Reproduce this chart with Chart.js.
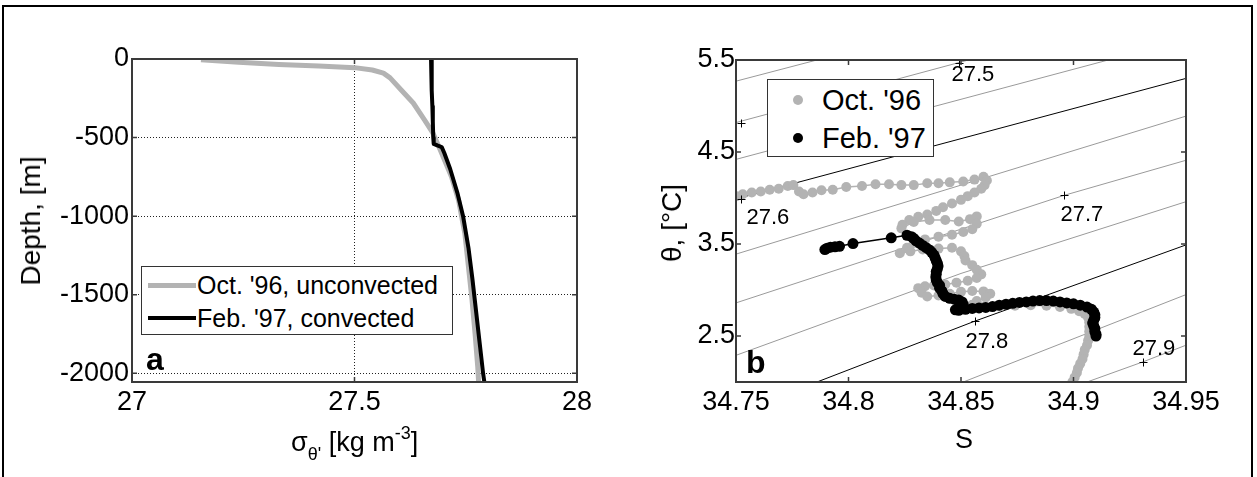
<!DOCTYPE html>
<html>
<head>
<meta charset="utf-8">
<script src="https://cdn.jsdelivr.net/npm/chart.js@4.4.1/dist/chart.umd.min.js"></script>
<style>
  body { margin: 0; background: #fff; }
  #page { position: relative; width: 1257px; height: 477px; overflow: hidden; font-family: "Liberation Sans", Arial, sans-serif; color: #000; }
  #outline { position: absolute; left: 2px; top: 5px; width: 1251px; height: 520px; border: 2px solid #000; box-sizing: border-box; }
  canvas { position: absolute; top: 0; }
  .txt { position: absolute; white-space: nowrap; line-height: 1; }
  .rot { transform: translate(-50%, -50%) rotate(-90deg); }
  .legend { position: absolute; background: #fff; border: 1px solid #333; box-sizing: border-box; }
  .legend .item { position: absolute; white-space: nowrap; line-height: 1; transform: translateY(-50%); }
  .legend .swatch { position: absolute; }
</style>
</head>
<body>
<div id="page">
  <div id="outline"></div>
  <canvas id="sigmaChart" width="640" height="477" style="left:0"></canvas>
  <canvas id="tsChart" width="617" height="477" style="left:640px"></canvas>

  <div class="txt rot" style="left:31px; top:221px; font-size:28px;">Depth, [m]</div>
  <div class="txt" style="left:291px; top:429px; font-size:27px;">σ<span style="font-size:18px; position:relative; top:9px;">θ'</span> [kg m<span style="font-size:18px; position:relative; top:-12px;">-3</span>]</div>
  <div class="txt" style="left:146px; top:343px; font-size:32px; font-weight:bold;">a</div>

  <div class="txt rot" style="left:672px; top:223px; font-size:28px;">θ, [°C]</div>
  <div class="txt" style="left:955px; top:426px; font-size:27px;">S</div>
  <div class="txt" style="left:746px; top:346px; font-size:32px; font-weight:bold;">b</div>

  <div id="legendA" class="legend" style="left:141px; top:266px; width:312px; height:69px;"></div>
  <div id="legendB" class="legend" style="left:767px; top:79px; width:167px; height:78px;"></div>
</div>

<script>
// ---- panel a: potential density profiles ----
const depthOct = [-5, -20, -35, -45, -55, -70, -90, -120, -200, -280, -390, -470, -580, -750, -900, -1110, -1320, -1530, -1750, -1960, -2060];
const sigmaOct = [27.155, 27.24, 27.33, 27.42, 27.5, 27.54, 27.565, 27.58, 27.606, 27.632, 27.658, 27.676, 27.693, 27.718, 27.734, 27.748, 27.756, 27.764, 27.771, 27.777, 27.779];
const depthFeb = [0, -100, -200, -300, -400, -500, -540, -550, -560, -600, -700, -850, -1000, -1200, -1400, -1600, -1800, -2000, -2060];
const sigmaFeb = [27.672, 27.673, 27.674, 27.675, 27.676, 27.677, 27.678, 27.686, 27.696, 27.702, 27.715, 27.731, 27.744, 27.756, 27.765, 27.773, 27.781, 27.789, 27.792];
const sigmaTicks = [27, 27.5, 28];
const depthTicks = [0, -500, -1000, -1500, -2000];

// ---- panel b: theta-S ----
const salOct = [34.7502, 34.753, 34.757, 34.761, 34.765, 34.769, 34.773, 34.7755, 34.778, 34.780,
  34.784, 34.788, 34.793, 34.799, 34.806, 34.812, 34.818, 34.8235, 34.829, 34.835,
  34.840, 34.845, 34.851, 34.856, 34.860, 34.8615, 34.8605, 34.859, 34.856, 34.853,
  34.850, 34.846, 34.842, 34.839, 34.835, 34.831, 34.827, 34.824, 34.8235, 34.829,
  34.836, 34.843, 34.849, 34.854, 34.857, 34.857, 34.855, 34.851, 34.846, 34.840,
  34.834, 34.829, 34.826, 34.8228, 34.8275, 34.833, 34.840, 34.846, 34.850, 34.8515,
  34.852, 34.855, 34.857, 34.859, 34.857, 34.853, 34.848, 34.843, 34.838, 34.834,
  34.831, 34.8325, 34.835, 34.840, 34.845, 34.850, 34.855, 34.860, 34.863, 34.861,
  34.857, 34.855, 34.860, 34.867, 34.874, 34.881, 34.888, 34.894, 34.899, 34.9025,
  34.905, 34.9065, 34.907, 34.907, 34.907, 34.907, 34.9065, 34.906, 34.905, 34.9045,
  34.904, 34.903, 34.902, 34.9015, 34.9005, 34.8995, 34.8985];
const thetaOct = [4.02, 4.04, 4.06, 4.07, 4.09, 4.10, 4.13, 4.14, 4.07, 4.04,
  4.06, 4.085, 4.09, 4.12, 4.13, 4.15, 4.15, 4.14, 4.14, 4.16,
  4.16, 4.17, 4.18, 4.20, 4.23, 4.19, 4.14, 4.10, 4.06, 4.02,
  3.98, 3.94, 3.90, 3.86, 3.82, 3.795, 3.76, 3.71, 3.67, 3.74,
  3.76, 3.76, 3.745, 3.77, 3.80, 3.72, 3.66, 3.63, 3.60, 3.58,
  3.55, 3.51, 3.46, 3.40, 3.42, 3.44, 3.45, 3.46, 3.42, 3.37,
  3.32, 3.27, 3.22, 3.17, 3.13, 3.10, 3.08, 3.06, 3.05, 3.04,
  3.02, 2.97, 2.93, 2.94, 2.96, 2.98, 2.99, 2.985, 2.96, 2.92,
  2.88, 2.84, 2.82, 2.82, 2.83, 2.835, 2.83, 2.815, 2.795, 2.77,
  2.74, 2.70, 2.65, 2.60, 2.55, 2.50, 2.45, 2.40, 2.35, 2.30,
  2.25, 2.20, 2.15, 2.10, 2.05, 2.00, 1.95];
const salFeb = [34.7895, 34.7905, 34.792, 34.794, 34.796, 34.802, 34.819, 34.826, 34.828,
  34.829, 34.830, 34.8315, 34.833, 34.8345, 34.836, 34.837, 34.838, 34.8385, 34.839,
  34.8395, 34.8398, 34.8395, 34.839, 34.839, 34.8388, 34.839, 34.8395, 34.8405, 34.8405,
  34.8415, 34.842, 34.843, 34.845, 34.847, 34.849, 34.8505, 34.851, 34.849, 34.8475,
  34.849, 34.852, 34.855, 34.858, 34.861, 34.864, 34.867, 34.870, 34.873, 34.876,
  34.879, 34.882, 34.885, 34.888, 34.891, 34.894, 34.897, 34.900, 34.903, 34.906,
  34.908, 34.909, 34.9095, 34.9095, 34.909, 34.9085, 34.909, 34.9095, 34.9095, 34.910,
  34.910];
const thetaFeb = [3.44, 3.455, 3.465, 3.47, 3.475, 3.505, 3.567, 3.595, 3.58,
  3.56, 3.535, 3.51, 3.485, 3.46, 3.435, 3.41, 3.38, 3.35, 3.32,
  3.29, 3.26, 3.23, 3.20, 3.17, 3.14, 3.11, 3.08, 3.05, 3.02,
  2.99, 2.96, 2.93, 2.91, 2.90, 2.89, 2.87, 2.84, 2.81, 2.785,
  2.78, 2.79, 2.80, 2.805, 2.81, 2.82, 2.835, 2.845, 2.855, 2.865,
  2.87, 2.88, 2.885, 2.885, 2.88, 2.87, 2.86, 2.85, 2.835, 2.815,
  2.79, 2.76, 2.73, 2.70, 2.67, 2.64, 2.61, 2.58, 2.55, 2.52,
  2.50];
const salTicks = [34.75, 34.8, 34.85, 34.9, 34.95];
const thetaTicks = [2.5, 3.5, 4.5, 5.5];

// isopycnals (sigma-theta), traced as S/theta vertices
const isoLevels = [27.45, 27.5, 27.55, 27.6, 27.65, 27.7, 27.75, 27.8, 27.85, 27.9];
const isoSal = [
  [34.75, 34.80],
  [34.75, 34.87],
  [34.75, 34.92],
  [34.75, 34.95],
  [34.75, 34.95],
  [34.75, 34.896, 34.95],
  [34.75, 34.85, 34.95],
  [34.75, 34.786, 34.856, 34.95],
  [34.80, 34.851, 34.95],
  [34.88, 34.906, 34.931, 34.95]
];
const isoTheta = [
  [5.27, 5.59],
  [4.82, 5.61],
  [4.42, 5.53],
  [3.99, 5.30],
  [3.39, 4.89],
  [2.86, 4.03, 4.41],
  [2.29, 3.18, 3.96],
  [1.65, 2.00, 2.66, 3.49],
  [1.50, 2.00, 2.95],
  [1.75, 2.00, 2.22, 2.40]
];
const isoDarkLevels = [27.6, 27.8];
// contour label marks
const isoMarkSal = [34.752, 34.849, 34.752, 34.896, 34.856, 34.931];
const isoMarkTheta = [4.82, 5.47, 3.99, 4.03, 2.66, 2.22];
const isoMarkText = [null, '27.5', '27.6', '27.7', '27.8', '27.9'];

Chart.defaults.font.family = '"Liberation Sans", Arial, sans-serif';
Chart.defaults.color = '#000';

const pairs = (xs, ys) => xs.map((v, i) => ({ x: v, y: ys[i] }));

// axes box with inward ticks on all four sides
const boxTicks = {
  id: 'boxTicks',
  afterDraw(chart) {
    const { ctx, chartArea: a, scales: { x, y } } = chart;
    const tl = 5;
    ctx.save();
    ctx.strokeStyle = '#3a3a3a';
    ctx.lineWidth = 1.5;
    ctx.beginPath();
    x.ticks.forEach(t => {
      const px = x.getPixelForValue(t.value);
      ctx.moveTo(px, a.bottom); ctx.lineTo(px, a.bottom - tl);
      ctx.moveTo(px, a.top); ctx.lineTo(px, a.top + tl);
    });
    y.ticks.forEach(t => {
      const py = y.getPixelForValue(t.value);
      ctx.moveTo(a.left, py); ctx.lineTo(a.left + tl, py);
      ctx.moveTo(a.right, py); ctx.lineTo(a.right - tl, py);
    });
    ctx.stroke();
    ctx.lineWidth = 2;
    ctx.strokeRect(a.left, a.top, a.right - a.left, a.bottom - a.top);
    ctx.restore();
  }
};

// "+" marks and level numbers on the isopycnals
const labelOffsets = [null, [-8, 17], [5, 24], [-4, 25], [-10, 26], [-11, -8]];
const isoLabels = {
  id: 'isoLabels',
  afterDatasetsDraw(chart) {
    const { ctx, chartArea: a, scales: { x, y } } = chart;
    ctx.save();
    ctx.beginPath();
    ctx.rect(a.left, a.top, a.right - a.left, a.bottom - a.top);
    ctx.clip();
    ctx.strokeStyle = '#000';
    ctx.lineWidth = 1;
    ctx.fillStyle = '#000';
    ctx.font = '22px "Liberation Sans", Arial';
    ctx.textBaseline = 'alphabetic';
    isoMarkSal.forEach((s, i) => {
      const px = Math.round(x.getPixelForValue(s)) + 0.5;
      const py = Math.round(y.getPixelForValue(isoMarkTheta[i])) + 0.5;
      ctx.beginPath();
      ctx.moveTo(px - 4, py); ctx.lineTo(px + 4, py);
      ctx.moveTo(px, py - 4); ctx.lineTo(px, py + 4);
      ctx.stroke();
      if (isoMarkText[i]) {
        const [dx, dy] = labelOffsets[i];
        ctx.fillText(isoMarkText[i], px + dx, py + dy);
      }
    });
    ctx.restore();
  }
};

function fixedTicks(values) {
  return scale => { scale.ticks = values.map(v => ({ value: v })); };
}

const tickFont = { size: 27 };

// panel a
const profileSets = [
  { label: "Oct. '96, unconvected", data: pairs(sigmaOct, depthOct), showLine: true,
    borderColor: '#b3b3b3', borderWidth: 5, pointRadius: 0, borderJoinStyle: 'round', order: 1 },
  { label: "Feb. '97, convected", data: pairs(sigmaFeb, depthFeb), showLine: true,
    borderColor: '#000', borderWidth: 4, pointRadius: 0, borderJoinStyle: 'round', order: 0 }
];

new Chart(document.getElementById('sigmaChart'), {
  type: 'scatter',
  data: { datasets: profileSets },
  options: {
    responsive: false,
    animation: false,
    devicePixelRatio: 1,
    layout: { padding: { top: 59, right: 63, left: 0, bottom: 0 } },
    plugins: { legend: { display: false }, tooltip: { enabled: false } },
    scales: {
      x: {
        type: 'linear', min: 27, max: 28,
        afterBuildTicks: fixedTicks(sigmaTicks),
        afterFit: s => { s.height = 95; },
        ticks: { padding: 4, font: tickFont, callback: v => String(v) },
        grid: { drawTicks: false, lineWidth: 1,
          color: c => (c.tick && c.tick.value === 27.5) ? '#222' : 'rgba(0,0,0,0)' },
        border: { display: false, dash: [1, 2] }
      },
      y: {
        type: 'linear', min: -2055, max: 0,
        afterBuildTicks: fixedTicks(depthTicks),
        afterFit: s => { s.width = 132; },
        ticks: { padding: 3, font: tickFont, callback: v => String(v) },
        grid: { drawTicks: false, lineWidth: 1,
          color: c => (c.tick && c.tick.value !== 0) ? '#222' : 'rgba(0,0,0,0)' },
        border: { display: false, dash: [1, 2] }
      }
    }
  },
  plugins: [boxTicks]
});

// panel b
const tsSets = [
  { label: "Oct. '96", data: pairs(salOct, thetaOct), showLine: true,
    borderColor: '#b3b3b3', borderWidth: 1.5, pointRadius: 5, pointBorderWidth: 0,
    pointBackgroundColor: '#b3b3b3', order: 2 },
  { label: "Feb. '97", data: pairs(salFeb, thetaFeb), showLine: true,
    borderColor: '#000', borderWidth: 1.5, pointRadius: 5.5, pointBorderWidth: 0,
    pointBackgroundColor: '#000', order: 1 }
];
const isoSets = isoLevels.map((lev, k) => ({
  label: '', data: pairs(isoSal[k], isoTheta[k]), showLine: true,
  borderColor: isoDarkLevels.includes(lev) ? '#000' : '#9a9a9a',
  borderWidth: 1, pointRadius: 0, order: 5
}));

new Chart(document.getElementById('tsChart'), {
  type: 'scatter',
  data: { datasets: tsSets.concat(isoSets) },
  options: {
    responsive: false,
    animation: false,
    devicePixelRatio: 1,
    layout: { padding: { top: 60, right: 71, left: 0, bottom: 0 } },
    plugins: { legend: { display: false }, tooltip: { enabled: false } },
    scales: {
      x: {
        type: 'linear', min: 34.75, max: 34.95,
        afterBuildTicks: fixedTicks(salTicks),
        afterFit: s => { s.height = 95; },
        ticks: { padding: 4, font: tickFont, callback: v => String(v) },
        grid: { display: false, drawTicks: false },
        border: { display: false }
      },
      y: {
        type: 'linear', min: 2.0, max: 5.5,
        afterBuildTicks: fixedTicks(thetaTicks),
        afterFit: s => { s.width = 96; },
        ticks: { padding: 1, font: tickFont, callback: v => String(v) },
        grid: { display: false, drawTicks: false },
        border: { display: false }
      }
    }
  },
  plugins: [isoLabels, boxTicks]
});

// legends, built from the dataset labels and colours
function buildLegend(el, sets, style) {
  sets.forEach((ds, i) => {
    const cy = style.rowCenters[i];
    const sw = document.createElement('div');
    sw.className = 'swatch';
    if (style.kind === 'line') {
      sw.style.left = '6px';
      sw.style.width = '48px';
      sw.style.height = ds.borderWidth + 'px';
      sw.style.top = (cy - ds.borderWidth / 2) + 'px';
      sw.style.background = ds.borderColor;
    } else {
      const d = 10;
      sw.style.left = (style.dotX - d / 2) + 'px';
      sw.style.top = (cy - d / 2) + 'px';
      sw.style.width = d + 'px';
      sw.style.height = d + 'px';
      sw.style.borderRadius = '50%';
      sw.style.background = ds.pointBackgroundColor;
    }
    el.appendChild(sw);
    const item = document.createElement('div');
    item.className = 'item';
    item.style.left = style.textX + 'px';
    item.style.top = cy + 'px';
    item.style.fontSize = style.fontSize + 'px';
    item.textContent = ds.label;
    el.appendChild(item);
  });
}
buildLegend(document.getElementById('legendA'), profileSets,
  { kind: 'line', rowCenters: [18, 51], textX: 55, fontSize: 25 });
buildLegend(document.getElementById('legendB'), tsSets,
  { kind: 'dot', rowCenters: [20, 58], dotX: 30, textX: 54, fontSize: 29 });
</script>
</body>
</html>
